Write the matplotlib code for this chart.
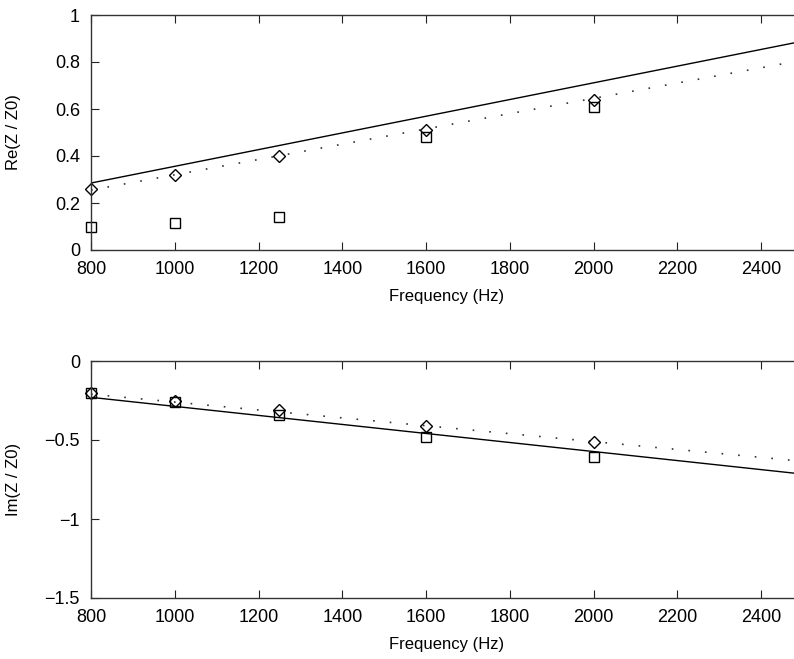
import matplotlib
matplotlib.use("Agg")
import matplotlib.pyplot as plt
from matplotlib.ticker import FuncFormatter

plt.rcParams['font.family'] = ['Liberation Sans', 'DejaVu Sans']

freq = [800, 1000, 1250, 1600, 2000]
line_f = [800, 2500]

# real part
re_diamond = [0.26, 0.32, 0.40, 0.51, 0.64]
re_square = [0.10, 0.115, 0.14, 0.48, 0.61]
re_solid = [0.285, 0.889]
re_dotted = [0.255, 0.808]

# imaginary part
im_diamond = [-0.20, -0.25, -0.31, -0.41, -0.51]
im_square = [-0.20, -0.26, -0.34, -0.48, -0.61]
im_solid = [-0.23, -0.716]
im_dotted = [-0.21, -0.635]

W, H = 794, 659
fig = plt.figure(figsize=(W / 100, H / 100), dpi=100)

def box(l, t, r, b):
    return [l / W, 1 - b / H, (r - l) / W, (b - t) / H]

def fmt(v, pos):
    return ('%g' % v).replace('-', '\u2212')

def style(ax):
    ax.set_xlim(800, 2500)
    ax.set_xticks(range(800, 2500, 200))
    ax.tick_params(direction='in', length=6, width=0.8, labelsize=13,
                   top=True, right=True, pad=8, colors='#222222')
    ax.tick_params(axis='both', labelcolor='black')
    for s in ax.spines.values():
        s.set_linewidth(1.0)
        s.set_color('#333333')
    ax.yaxis.set_major_formatter(FuncFormatter(fmt))
    ax.set_xlabel('Frequency (Hz)', fontsize=12, labelpad=8)

dots = (0, (1, 9))

ax1 = fig.add_axes(box(91, 15, 803, 250))
ax1.plot(line_f, re_solid, '-', color='black', lw=1.0)
ax1.plot(line_f, re_dotted, ls=dots, color='#333333', lw=1.2)
ax1.plot(freq, re_diamond, 'D', ls='none', mfc='none', mec='black', ms=6.5, mew=1.0, clip_on=False)
ax1.plot(freq, re_square, 's', ls='none', mfc='none', mec='black', ms=7, mew=1.0, clip_on=False)
ax1.set_ylim(0, 1)
ax1.set_yticks([0, 0.2, 0.4, 0.6, 0.8, 1])
style(ax1)
ax1.set_ylabel('Re(Z / Z0)', fontsize=12)
ax1.yaxis.set_label_coords(-0.098, 0.5)

ax2 = fig.add_axes(box(91, 361, 803, 598))
ax2.plot(line_f, im_solid, '-', color='black', lw=1.0)
ax2.plot(line_f, im_dotted, ls=dots, color='#333333', lw=1.2)
ax2.plot(freq, im_diamond, 'D', ls='none', mfc='none', mec='black', ms=6.5, mew=1.0, clip_on=False)
ax2.plot(freq, im_square, 's', ls='none', mfc='none', mec='black', ms=7, mew=1.0, clip_on=False)
ax2.set_ylim(-1.5, 0)
ax2.set_yticks([0, -0.5, -1, -1.5])
style(ax2)
ax2.set_ylabel('Im(Z / Z0)', fontsize=12)
ax2.yaxis.set_label_coords(-0.098, 0.5)

fig.savefig('out.png', dpi=100)
